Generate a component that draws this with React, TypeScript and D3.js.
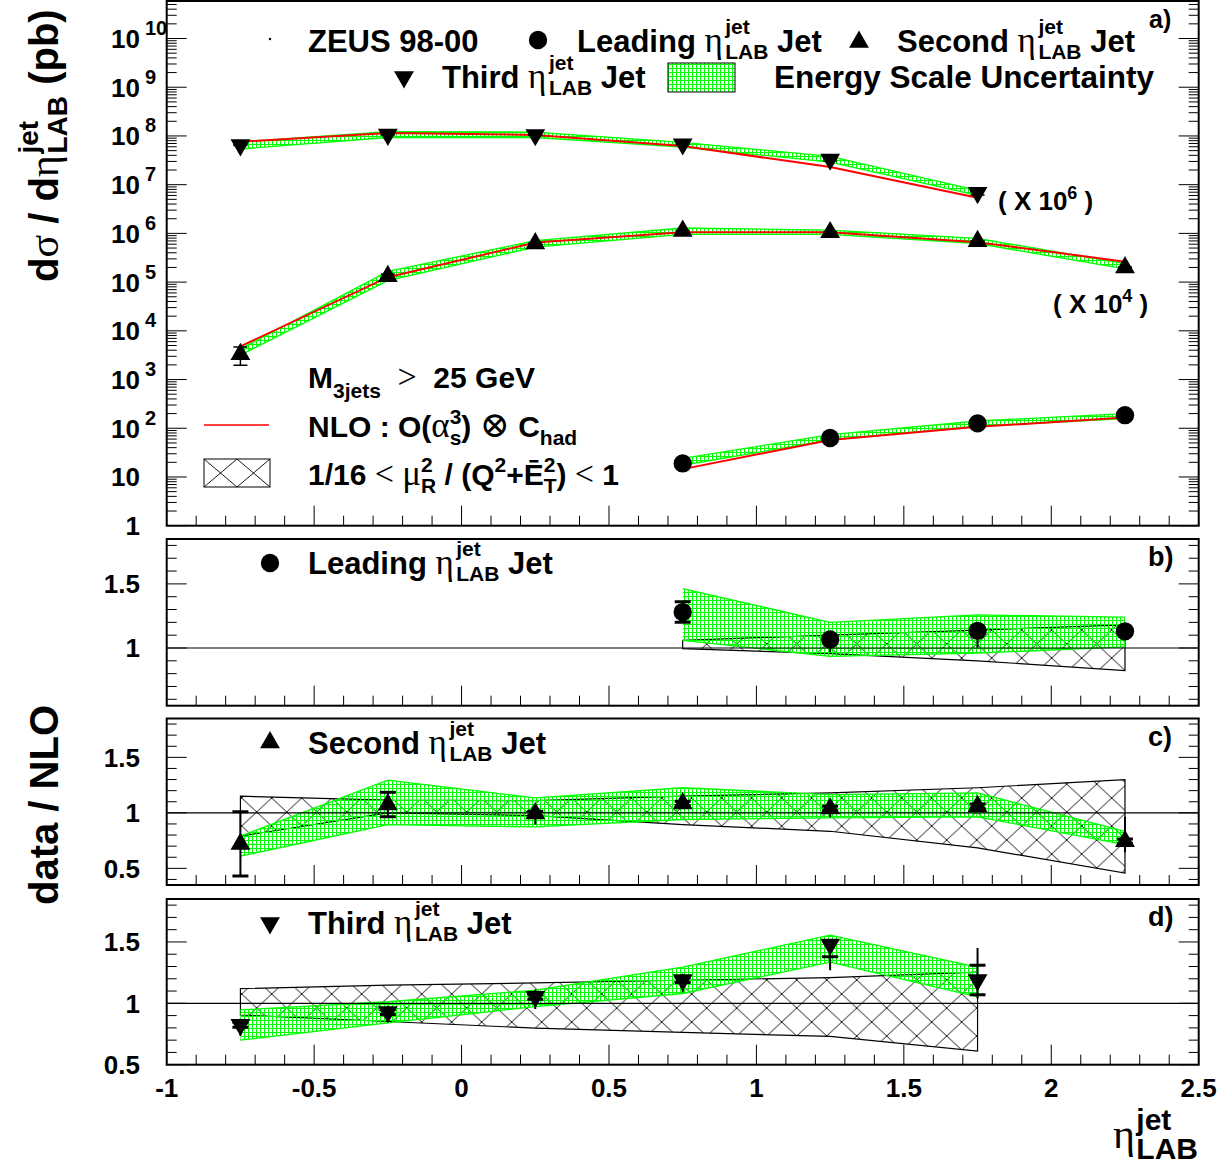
import React from 'react';
import * as d3 from 'd3';

const SANS = "'Liberation Sans', Arial, Helvetica, sans-serif";
const SERIF = "'Liberation Serif', 'DejaVu Serif', serif";

// ---------- data ----------
const etaLeading = [0.75, 1.25, 1.75, 2.25];
const etaSecond = [-0.75, -0.25, 0.25, 0.75, 1.25, 1.75, 2.25];
const etaThird = [-0.75, -0.25, 0.25, 0.75, 1.25, 1.75];

// panel a (pb, scale factors already applied: second x10^4, third x10^6)
const leadingXsec = [19, 63, 126, 186];
const leadingNLO = [14.5, 57.5, 107, 166];
const leadingEsLo = [17.4, 57.5, 110, 158];
const leadingEsHi = [24, 74, 141, 200];

const secondXsec = [3300, 1.32e5, 6.2e5, 1.12e6, 1.05e6, 6.9e5, 2.0e5];
const secondNLO = [4800, 1.26e5, 6.5e5, 1.05e6, 1.05e6, 6.6e5, 2.63e5];
const secondEsLo = [3160, 1.07e5, 5.25e5, 9.5e5, 9.5e5, 6.2e5, 1.86e5];
const secondEsHi = [4270, 1.66e5, 7.1e5, 1.29e6, 1.17e6, 7.9e5, 2.4e5];

const thirdXsec = [6.5e7, 1.07e8, 1.05e8, 6.8e7, 3.3e7, 6.8e6];
const thirdNLO = [7.6e7, 1.15e8, 1.05e8, 6.2e7, 2.3e7, 5.4e6];
const thirdEsLo = [5.4e7, 9.3e7, 9.3e7, 5.9e7, 2.9e7, 6.0e6];
const thirdEsHi = [7.6e7, 1.23e8, 1.2e8, 7.4e7, 3.8e7, 7.6e6];

// panel b: leading jet data / NLO
const leadRatio = [1.28, 1.066, 1.134, 1.13];
const leadStat = [0.08, 0.02, 0.02, 0.02];
const leadTotUp = [0.08, 0.06, 0.06, 0.04];
const leadTotDn = [0.08, 0.1, 0.13, 0.04];
const leadEnLo = [1.06, 0.934, 0.96, 1.008];
const leadEnHi = [1.463, 1.2, 1.258, 1.24];
const leadScLo = [0.995, 0.956, 0.9, 0.824];
const leadScHi = [1.06, 1.1, 1.14, 1.18];

// panel c: second jet
const secRatio = [0.72, 1.075, 0.994, 1.084, 1.04, 1.06, 0.744];
const secStat = [0.29, 0.11, 0.02, 0.02, 0.02, 0.02, 0.02];
const secTotUp = [0.29, 0.12, 0.06, 0.05, 0.05, 0.05, 0.22];
const secTotDn = [0.29, 0.12, 0.1, 0.05, 0.08, 0.05, 0.1];
const secEnLo = [0.61, 0.894, 0.873, 0.94, 0.955, 0.964, 0.714];
const secEnHi = [0.79, 1.295, 1.135, 1.226, 1.165, 1.18, 0.834];
const secScLo = [0.79, 1.0, 0.975, 0.894, 0.834, 0.684, 0.458];
const secScHi = [1.15, 1.114, 1.11, 1.15, 1.18, 1.226, 1.3];

// panel d: third jet
const thrRatio = [0.825, 0.93, 1.053, 1.19, 1.48, 1.19];
const thrStat = [0.02, 0.02, 0.02, 0.02, 0.1, 0.12];
const thrTotUp = [0.05, 0.05, 0.06, 0.05, 0.03, 0.26];
const thrTotDn = [0.09, 0.08, 0.1, 0.1, 0.21, 0.15];
const thrEnLo = [0.7, 0.84, 0.973, 1.08, 1.336, 1.053];
const thrEnHi = [0.946, 1.013, 1.107, 1.295, 1.556, 1.295];
const thrScLo = [0.905, 0.852, 0.798, 0.763, 0.73, 0.61];
const thrScHi = [1.12, 1.148, 1.166, 1.188, 1.21, 1.255];

const xTickLabels = ['-1', '-0.5', '0', '0.5', '1', '1.5', '2', '2.5'];
const xTickValues = [-1, -0.5, 0, 0.5, 1, 1.5, 2, 2.5];

// ---------- text helpers ----------
let _ctx: CanvasRenderingContext2D | null = null;
function measure(t: string, size: number, greek?: boolean) {
  if (!_ctx) _ctx = document.createElement('canvas').getContext('2d');
  _ctx!.font = greek ? `normal ${size}px ${SERIF}` : `bold ${size}px ${SANS}`;
  return _ctx!.measureText(t).width;
}

type Run =
  | { t: string; size: number; greek?: boolean; shift?: number }
  | { sup: string; sub: string; size: number; supShift: number; subShift: number };

function Rich({ x, y, runs, anchor = 'start' }: { x: number; y: number; runs: Run[]; anchor?: string }) {
  let cx = 0;
  const els: any[] = [];
  runs.forEach((r: any, i) => {
    if (r.sup !== undefined) {
      const w = Math.max(measure(r.sup, r.size), measure(r.sub, r.size));
      els.push(
        <text key={i + 'p'} x={cx} y={-r.supShift} fontFamily={SANS} fontWeight="bold" fontSize={r.size} style={{ whiteSpace: 'pre' }}>{r.sup}</text>
      );
      els.push(
        <text key={i + 'b'} x={cx} y={r.subShift} fontFamily={SANS} fontWeight="bold" fontSize={r.size} style={{ whiteSpace: 'pre' }}>{r.sub}</text>
      );
      cx += w;
    } else {
      els.push(
        <text key={i} x={cx} y={-(r.shift || 0)} fontFamily={r.greek ? SERIF : SANS} fontWeight={r.greek ? 'normal' : 'bold'} fontSize={r.size} style={{ whiteSpace: 'pre' }}>{r.t}</text>
      );
      cx += measure(r.t, r.size, r.greek);
    }
  });
  const off = anchor === 'end' ? -cx : anchor === 'middle' ? -cx / 2 : 0;
  return <g transform={`translate(${x + off},${y})`}>{els}</g>;
}

const etaRuns = (word: string, size = 31, sub = 21): Run[] => [
  { t: word + ' ', size },
  { t: 'η', size: 35, greek: true },
  { t: ' ', size: 9 },
  { sup: 'jet', sub: 'LAB', size: sub, supShift: 18, subShift: 7 },
  { t: ' Jet', size },
];

// ---------- markers ----------
const circlePath = d3.symbol().type(d3.symbolCircle).size(265)()!;
const triPath = d3.symbol().type(d3.symbolTriangle).size(170)()!;

function Marker({ kind, cx, cy }: { kind: string; cx: number; cy: number }) {
  if (kind === 'circle') return <path d={circlePath} transform={`translate(${cx},${cy})`} fill="#000" />;
  if (kind === 'up') return <path d={triPath} transform={`translate(${cx},${cy})`} fill="#000" />;
  return <path d={triPath} transform={`translate(${cx},${cy}) rotate(180)`} fill="#000" />;
}

const X0 = 166.7, X1 = 1198.7;
const x = d3.scaleLinear().domain([-1, 2.5]).range([X0, X1]);

function XTicks({ bottom }: { bottom: number }) {
  const vals = d3.range(0, 36).map((i) => -1 + i * 0.1);
  return (
    <g stroke="#000" strokeWidth={1}>
      {vals.map((v, i) => {
        const major = i % 5 === 0;
        return <line key={i} x1={x(v)} x2={x(v)} y1={bottom} y2={bottom - (major ? 20 : 10)} />;
      })}
    </g>
  );
}

function YTicksLinear({ y, lo, hi }: { y: any; lo: number; hi: number }) {
  const vals = d3.range(Math.ceil(lo * 10), Math.floor(hi * 10) + 1).map((k) => k / 10);
  return (
    <g stroke="#000" strokeWidth={1}>
      {vals.map((v, i) => {
        const major = Math.abs(v * 2 - Math.round(v * 2)) < 1e-6;
        const L = major ? 20 : 10;
        return (
          <g key={i}>
            <line x1={X0} x2={X0 + L} y1={y(v)} y2={y(v)} />
            <line x1={X1} x2={X1 - L} y1={y(v)} y2={y(v)} />
          </g>
        );
      })}
    </g>
  );
}

function Band({ etas, lo, hi, y, fill, stroke, clip }: any) {
  const pts = etas.map((e: number, i: number) => ({ e, lo: lo[i], hi: hi[i] }));
  const area = d3.area<any>().x((d) => x(d.e)).y0((d) => y(d.lo)).y1((d) => y(d.hi));
  const upper = d3.line<any>().x((d) => x(d.e)).y((d) => y(d.hi));
  const lower = d3.line<any>().x((d) => x(d.e)).y((d) => y(d.lo));
  return (
    <g clipPath={clip}>
      <path d={area(pts)!} fill={fill} stroke="none" />
      {stroke === 'box' ? (
        <path d={area(pts)!} fill="none" stroke="#000" strokeWidth={1.2} />
      ) : (
        <g fill="none" stroke={stroke} strokeWidth={1.3}>
          <path d={upper(pts)!} />
          <path d={lower(pts)!} />
        </g>
      )}
    </g>
  );
}

function ErrBars({ etas, val, stat, up, dn, y, clip }: any) {
  return (
    <g clipPath={clip} stroke="#000">
      {etas.map((e: number, i: number) => {
        const cx = x(e);
        const su = Math.min(stat[i], up[i]);
        const sd = Math.min(stat[i], dn[i]);
        return (
          <g key={i}>
            <line x1={cx} x2={cx} y1={y(val[i] + up[i])} y2={y(val[i] - dn[i])} strokeWidth={2} />
            <line x1={cx - 8} x2={cx + 8} y1={y(val[i] + su)} y2={y(val[i] + su)} strokeWidth={3} />
            <line x1={cx - 8} x2={cx + 8} y1={y(val[i] - sd)} y2={y(val[i] - sd)} strokeWidth={3} />
          </g>
        );
      })}
    </g>
  );
}

export default function App() {
  const ya = d3.scaleLog().domain([1, Math.pow(10, 10.77)]).range([525.7, 1]);

  const ratioPanels = [
    { id: 'b', top: 539, bottom: 705.7, domain: [0.55, 1.85], labels: [1, 1.5], etas: etaLeading, r: leadRatio, st: leadStat, up: leadTotUp, dn: leadTotDn, enLo: leadEnLo, enHi: leadEnHi, scLo: leadScLo, scHi: leadScHi, marker: 'circle', word: 'Leading', tag: 'b)' },
    { id: 'c', top: 718.5, bottom: 885, domain: [0.35, 1.85], labels: [0.5, 1, 1.5], etas: etaSecond, r: secRatio, st: secStat, up: secTotUp, dn: secTotDn, enLo: secEnLo, enHi: secEnHi, scLo: secScLo, scHi: secScHi, marker: 'up', word: 'Second', tag: 'c)' },
    { id: 'd', top: 899, bottom: 1064.7, domain: [0.5, 1.85], labels: [0.5, 1, 1.5], etas: etaThird, r: thrRatio, st: thrStat, up: thrTotUp, dn: thrTotDn, enLo: thrEnLo, enHi: thrEnHi, scLo: thrScLo, scHi: thrScHi, marker: 'down', word: 'Third', tag: 'd)' },
  ];

  // log ticks for panel a
  const logTicks: { v: number; major: boolean }[] = [];
  for (let n = 0; n <= 10; n++) {
    for (let k = 1; k <= 9; k++) {
      const v = k * Math.pow(10, n);
      if (v <= Math.pow(10, 10.77)) logTicks.push({ v, major: k === 1 });
    }
  }

  const series = [
    { etas: etaLeading, xs: leadingXsec, nlo: leadingNLO, lo: leadingEsLo, hi: leadingEsHi, marker: 'circle', r: leadRatio, st: leadStat, up: leadTotUp, dn: leadTotDn },
    { etas: etaSecond, xs: secondXsec, nlo: secondNLO, lo: secondEsLo, hi: secondEsHi, marker: 'up', r: secRatio, st: secStat, up: secTotUp, dn: secTotDn },
    { etas: etaThird, xs: thirdXsec, nlo: thirdNLO, lo: thirdEsLo, hi: thirdEsHi, marker: 'down', r: thrRatio, st: thrStat, up: thrTotUp, dn: thrTotDn },
  ];

  const nloLine = (etas: number[], vals: number[]) =>
    d3.line<number>().x((_, i) => x(etas[i])).y((v) => ya(v))(vals)!;

  return (
    <svg width={1225} height={1167} style={{ position: 'absolute', left: 0, top: 0, background: '#fff' }}>
      <defs>
        <pattern id="grid" width={4} height={4} patternUnits="userSpaceOnUse">
          <path d="M0 0.5H4M0.5 0V4" stroke="#00ff00" strokeWidth={1} fill="none" />
        </pattern>
        <pattern id="hatch" width={30} height={28} patternUnits="userSpaceOnUse" x={X0} y={0}>
          <path d="M0 0L30 28M0 28L30 0" stroke="#000" strokeWidth={0.9} fill="none" />
        </pattern>
        <pattern id="hatchLeg" width={33} height={28} patternUnits="userSpaceOnUse" x={204} y={459}>
          <path d="M0 0L33 28M0 28L33 0" stroke="#000" strokeWidth={0.9} fill="none" />
        </pattern>
        <clipPath id="clip-a"><rect x={X0} y={1} width={X1 - X0} height={524.7} /></clipPath>
        {ratioPanels.map((p) => (
          <clipPath key={p.id} id={'clip-' + p.id}><rect x={X0} y={p.top} width={X1 - X0} height={p.bottom - p.top} /></clipPath>
        ))}
      </defs>
      <rect x={0} y={0} width={1225} height={1167} fill="#fff" />

      {/* ---------- panel a ---------- */}
      <g>
        {series.map((s, si) => (
          <Band key={'ba' + si} etas={s.etas} lo={s.lo} hi={s.hi} y={ya} fill="url(#grid)" stroke="#00ff00" clip="url(#clip-a)" />
        ))}
        {series.map((s, si) => (
          <path key={'nl' + si} d={nloLine(s.etas, s.nlo)} fill="none" stroke="#ff0000" strokeWidth={2} />
        ))}
        {series.map((s, si) => (
          <g key={'ea' + si} stroke="#000" clipPath="url(#clip-a)">
            {s.etas.map((e, i) => {
              const rel = (d: number) => d / s.r[i];
              const cx = x(e);
              return (
                <g key={i}>
                  <line x1={cx} x2={cx} y1={ya(s.xs[i] * (1 + rel(s.up[i])))} y2={ya(s.xs[i] * (1 - rel(s.dn[i])))} strokeWidth={1.5} />
                  <line x1={cx - 7} x2={cx + 7} y1={ya(s.xs[i] * (1 - rel(s.st[i])))} y2={ya(s.xs[i] * (1 - rel(s.st[i])))} strokeWidth={1.5} />
                  <line x1={cx - 7} x2={cx + 7} y1={ya(s.xs[i] * (1 + rel(Math.min(s.st[i], s.up[i]))))} y2={ya(s.xs[i] * (1 + rel(Math.min(s.st[i], s.up[i]))))} strokeWidth={1.5} />
                </g>
              );
            })}
          </g>
        ))}
        {series.map((s, si) =>
          s.etas.map((e, i) => <Marker key={'m' + si + '-' + i} kind={s.marker} cx={x(e)} cy={ya(s.xs[i])} />)
        )}
        <XTicks bottom={525.7} />
        <g stroke="#000" strokeWidth={1}>
          {logTicks.map((t, i) => (
            <g key={i}>
              <line x1={X0} x2={X0 + (t.major ? 20 : 10)} y1={ya(t.v)} y2={ya(t.v)} />
              <line x1={X1} x2={X1 - (t.major ? 20 : 10)} y1={ya(t.v)} y2={ya(t.v)} />
            </g>
          ))}
        </g>
        <rect x={X0} y={1} width={X1 - X0} height={524.7} fill="none" stroke="#000" strokeWidth={2} />
        {d3.range(0, 11).map((n) => {
          const yy = ya(Math.pow(10, n)) + 9.5;
          if (n === 0) return <text key={n} x={140} y={yy} textAnchor="end" fontFamily={SANS} fontWeight="bold" fontSize={26}>1</text>;
          if (n === 1) return <text key={n} x={140} y={yy} textAnchor="end" fontFamily={SANS} fontWeight="bold" fontSize={26}>10</text>;
          return (
            <g key={n}>
              <text x={140} y={yy} textAnchor="end" fontFamily={SANS} fontWeight="bold" fontSize={26}>10</text>
              <text x={145} y={yy - 13} fontFamily={SANS} fontWeight="bold" fontSize={20}>{String(n)}</text>
            </g>
          );
        })}

        {/* legend */}
        <circle cx={270} cy={39} r={1.2} fill="#000" />
        <Rich x={308} y={52} runs={[{ t: 'ZEUS 98-00', size: 31 }]} />
        <Marker kind="circle" cx={538} cy={40} />
        <Rich x={577} y={52} runs={etaRuns('Leading')} />
        <Marker kind="up" cx={859} cy={42} />
        <Rich x={897} y={52} runs={etaRuns('Second')} />
        <Rich x={1149} y={28} runs={[{ t: 'a)', size: 25 }]} />
        <Marker kind="down" cx={404} cy={77} />
        <Rich x={442} y={88} runs={etaRuns('Third')} />
        <rect x={668} y={63} width={67} height={29} fill="url(#grid)" stroke="#000" strokeWidth={1} />
        <Rich x={774} y={88} runs={[{ t: 'Energy Scale Uncertainty', size: 31.5 }]} />

        <Rich x={998} y={210} runs={[{ t: '( X 10', size: 26 }, { t: '6', size: 18, shift: 11 }, { t: ' )', size: 26 }]} />
        <Rich x={1053} y={313} runs={[{ t: '( X 10', size: 26 }, { t: '4', size: 18, shift: 11 }, { t: ' )', size: 26 }]} />

        <Rich x={308} y={388} runs={[{ t: 'M', size: 30 }, { t: '3jets', size: 21, shift: -10 }, { t: '  ', size: 30 }, { t: '>', size: 34, greek: true }, { t: '  25 GeV', size: 30 }]} />
        <line x1={204} x2={269} y1={425} y2={425} stroke="#ff0000" strokeWidth={1.5} />
        <Rich x={308} y={437} runs={[
          { t: 'NLO : O(', size: 30 },
          { t: 'α', size: 35, greek: true },
          { sup: '3', sub: 's', size: 21, supShift: 13, subShift: 8 },
          { t: ') ', size: 30 },
          { t: '⊗', size: 36, greek: true },
          { t: ' C', size: 30 },
          { t: 'had', size: 21, shift: -8 },
        ]} />
        <rect x={204} y={459} width={66} height={28} fill="url(#hatchLeg)" stroke="#000" strokeWidth={1} />
        <Rich x={308} y={485} runs={[
          { t: '1/16 ', size: 30 },
          { t: '<', size: 34, greek: true },
          { t: ' ', size: 30 },
          { t: 'μ', size: 35, greek: true },
          { sup: '2', sub: 'R', size: 21, supShift: 13, subShift: 8 },
          { t: ' / (Q', size: 30 },
          { t: '2', size: 21, shift: 13 },
          { t: '+Ē', size: 30 },
          { sup: '2', sub: 'T', size: 21, supShift: 13, subShift: 8 },
          { t: ') ', size: 30 },
          { t: '<', size: 34, greek: true },
          { t: ' 1', size: 30 },
        ]} />
      </g>

      {/* ---------- ratio panels ---------- */}
      {ratioPanels.map((p) => {
        const y = d3.scaleLinear().domain(p.domain).range([p.bottom, p.top]);
        const clip = `url(#clip-${p.id})`;
        return (
          <g key={p.id}>
            <Band etas={p.etas} lo={p.scLo} hi={p.scHi} y={y} fill="url(#hatch)" stroke="box" clip={clip} />
            <Band etas={p.etas} lo={p.enLo} hi={p.enHi} y={y} fill="url(#grid)" stroke="#00ff00" clip={clip} />
            <line x1={X0} x2={X1} y1={y(1)} y2={y(1)} stroke="#000" strokeWidth={1.2} />
            <ErrBars etas={p.etas} val={p.r} stat={p.st} up={p.up} dn={p.dn} y={y} clip={clip} />
            {p.etas.map((e, i) => <Marker key={i} kind={p.marker} cx={x(e)} cy={y(p.r[i])} />)}
            <XTicks bottom={p.bottom} />
            <YTicksLinear y={y} lo={p.domain[0]} hi={p.domain[1]} />
            <rect x={X0} y={p.top} width={X1 - X0} height={p.bottom - p.top} fill="none" stroke="#000" strokeWidth={2} />
            {p.labels.map((v) => (
              <text key={v} x={140} y={y(v) + 9.5} textAnchor="end" fontFamily={SANS} fontWeight="bold" fontSize={26}>{String(v)}</text>
            ))}
            <Marker kind={p.marker} cx={270} cy={p.top + 24} />
            <Rich x={308} y={p.top + 35} runs={etaRuns(p.word)} />
            <Rich x={1148} y={p.top + 27} runs={[{ t: p.tag, size: 27 }]} />
          </g>
        );
      })}

      {/* x tick labels */}
      {xTickValues.map((v, i) => (
        <text key={i} x={x(v)} y={1097} textAnchor="middle" fontFamily={SANS} fontWeight="bold" fontSize={26}>{xTickLabels[i]}</text>
      ))}
      <Rich x={1113} y={1148} runs={[{ t: 'η', size: 42, greek: true }, { t: ' ', size: 5 }, { sup: 'jet', sub: 'LAB', size: 30, supShift: 18, subShift: 11 }]} />

      {/* y titles */}
      <g transform="translate(58,282) rotate(-90)">
        <Rich x={0} y={0} runs={[
          { t: 'd', size: 40 },
          { t: 'σ', size: 42, greek: true },
          { t: ' / d', size: 40 },
          { t: 'η', size: 42, greek: true },
          { t: ' ', size: 6 },
          { sup: 'jet', sub: 'LAB', size: 28, supShift: 20, subShift: 9 },
          { t: ' (pb)', size: 40 },
        ]} />
      </g>
      <g transform="translate(58,805) rotate(-90)">
        <Rich x={0} y={0} anchor="middle" runs={[{ t: 'data / NLO', size: 40 }]} />
      </g>
    </svg>
  );
}
